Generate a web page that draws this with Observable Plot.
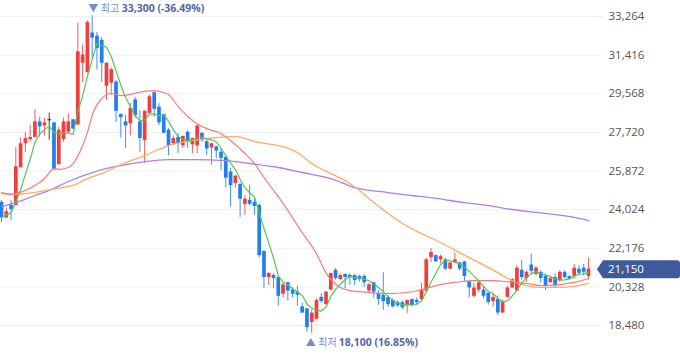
<!DOCTYPE html>
<html><head><meta charset="utf-8">
<script src="https://cdn.jsdelivr.net/npm/d3@7"></script>
<script src="https://cdn.jsdelivr.net/npm/@observablehq/plot@0.6"></script>
<style>html,body{margin:0;padding:0;background:#fff;} #chart svg{display:block;}</style>
</head><body><div id="chart"></div>
<script>
// Daily candles (KRW)
const opens  = [24350,23650,24200,24250,26050,27200,27400,27500,28200,28050,28300,28150,26200,27400,27750,28300,28100,31050,30600,32450,32300,32100,29950,30100,30100,28550,28200,28150,29250,28200,27350,28650,29600,28900,28550,27800,27200,27450,27100,27700,27150,27100,27650,27250,27000,27000,26750,26500,25800,25300,25200,24300,24450,24350,24200,22000,20800,20850,20750,20000,20500,20150,20050,19350,19250,18650,18800,19800,19500,20200,21100,20700,20900,20850,20850,20800,20800,20150,20500,20000,19900,19800,19650,19550,19550,19450,19700,19650,19750,20150,21750,21800,21650,21600,21200,21500,21450,21500,20550,19900,20200,20150,20000,19650,19700,19100,19850,20300,20150,21100,20750,21350,20950,21000,20800,20550,20750,20650,21000,20800,20850,21150,21200,20850];
const highs  = [24450,24100,24450,27000,27450,27700,28050,28800,28450,28400,28650,28200,27950,28400,28600,28300,32950,31900,33050,33300,32500,32250,31050,30800,30200,28600,28550,29100,29400,28750,28750,29500,29650,29100,28600,27900,27550,27650,27550,27800,27450,28050,27700,27350,27200,27050,26950,26600,26000,25650,25300,24700,25200,24550,24300,22050,21000,20950,20800,20500,20550,20300,20350,19550,19300,19200,19750,20000,20100,20950,21200,20950,20950,20950,20900,20900,20900,20500,20550,20150,21000,19900,19750,19650,19650,19700,19750,19800,20500,21700,22150,21850,21850,21700,21500,21950,21500,21550,20550,20500,20600,20300,20050,20000,19900,19700,20350,20750,21350,21600,21100,21900,21300,21100,20950,20800,20950,21100,21100,20850,21400,21350,21400,21700];
const lows   = [23400,23600,23500,24200,26000,26750,27250,27450,27500,27550,27350,25900,26150,27250,27650,27850,28050,30100,30550,31250,30700,30100,29250,29500,28200,27450,26950,27550,28400,26750,26250,28600,28450,28050,27650,26600,27100,26700,26950,26950,26700,26700,27250,26600,26150,26450,25900,25050,24150,25050,23650,23750,24200,23750,21700,20250,20400,20250,19400,19800,19650,19800,19400,19050,18150,18100,18750,19550,19450,20150,20650,20650,20250,20400,20400,20550,20300,20050,19800,19450,19200,19350,19300,19350,19250,19050,19400,19450,19650,20100,21500,21500,21450,21100,21150,21450,21100,20550,19800,19800,20050,19750,19450,19350,18950,19050,19800,20250,20100,20650,20550,20950,20850,20500,20150,20500,20300,20550,20700,20650,20700,20850,20850,20650];
const closes = [23650,23900,24050,26050,27150,27400,27450,28200,28000,28150,28300,25950,27800,28200,28200,27900,31550,31400,32950,32250,31750,31050,31000,30700,28750,28450,28050,28850,28550,27450,28700,29400,28850,28200,27700,27100,27400,27200,27500,27300,27400,28000,27350,26950,27150,26850,26500,25550,25200,25600,24550,24500,24300,24200,21850,20800,20950,20750,19900,20400,20150,20000,19950,19100,18400,19050,19650,19650,20050,20950,20750,20850,20800,20800,20650,20700,20550,20400,20100,19750,19650,19500,19400,19450,19350,19650,19450,19600,20150,21600,21950,21550,21750,21200,21450,21600,21200,20850,20300,20250,20500,19900,19600,19800,19100,19600,20250,20650,21200,20800,21000,21100,21200,20750,20400,20700,20400,21000,20800,20700,21200,21000,21050,21150];

// Moving averages (candle index, price)
const ma20Idx = [0,2,4,7,9,11,12,14,15,17,18,19,21,23,25,30,32,34,35,37,40,43,46,48,51,53,55,59,63,66,68,71,73,75,81,85,88,91,95,99,103,106,110,113,117,120,123];
const ma20Val = [24800,24750,24850,25180,25500,25990,25950,26040,26230,27090,27710,28530,29340,29580,29480,29680,29720,29630,29530,28960,28290,27900,27670,27330,26710,26230,25560,24320,22930,21920,21000,20300,20150,20100,20010,20060,20200,20390,20540,20630,20630,20580,20490,20390,20440,20540,20730];
const ma60Idx = [0,3,7,12,15,18,21,25,30,35,40,45,49,54,58,62,65,69,72,75,77,81,84,88,92,96,100,104,106,110,113,117,120,123];
const ma60Val = [24850,24750,24850,25050,25180,25510,25750,26180,26610,27090,27330,27470,27520,27230,27090,26760,26230,25750,25420,24940,24560,23840,23360,22880,22450,21970,21490,21010,20730,20390,20300,20300,20350,20490];
const ma120Idx = [0,3,7,10,14,19,23,29,35,40,47,52,58,63,69,74,81,86,91,97,102,107,114,120,123];
const ma120Val = [24170,24360,24700,24940,25370,25800,26040,26280,26420,26420,26370,26230,26040,25800,25510,25080,24840,24700,24560,24360,24220,24030,23840,23650,23500];

const yTicks = [18480,20328,22176,24024,25872,27720,29568,31416,33264];

const highIdx = 19, highValue = 33300, highPrefix = "▼ 최고", highText = "33,300 (-36.49%)";
const lowIdx = 65, lowValue = 18100, lowPrefix = "▲ 최저", lowText = "18,100 (16.85%)";

const candles = opens.map((o, i) => ({i, open: o, high: highs[i], low: lows[i], close: closes[i]}));
const colorOf = d => d.close > d.open ? "#f23d3d" : d.close < d.open ? "#1f7fef" : "#222222";
const pts = (idx, val) => idx.map((i, k) => ({i, v: val[k]}));
const lastClose = closes[closes.length - 1];
const fmt = d3.format(",");

function priceTag(index, scales) {
  const y = scales.y(lastClose);
  const g = d3.create("svg:g");
  g.append("path")
    .attr("d", `M597,${y} L603,${y - 9} H677 Q680,${y - 9} 680,${y - 6} V${y + 6} Q680,${y + 9} 677,${y + 9} H603 Z`)
    .attr("fill", "#3f5a9b");
  g.append("text").attr("x", 608).attr("y", y).attr("dy", "0.36em")
    .attr("text-anchor", "start")
    .attr("fill", "#ffffff").attr("font-size", "11.5px").text(fmt(lastClose));
  return g.node();
}

const chart = Plot.plot({
  width: 680, height: 358,
  marginLeft: 0, marginRight: 77, marginTop: 0, marginBottom: 0,
  style: {fontFamily: "'Open Sans','Noto Sans CJK KR',sans-serif", fontSize: "11.5px", color: "#555", background: "#fff", overflow: "visible"},
  x: {type: "linear", domain: [0, closes.length - 1], range: [1, 588], axis: null},
  y: {domain: [18480, 33264], range: [325, 16], axis: "right", ticks: yTicks, tickFormat: fmt, tickSize: 0, tickPadding: 5, label: null},
  color: {type: "identity"},
  marks: [
    Plot.ruleY(yTicks, {stroke: "#eef0f7"}),
    Plot.ruleX(candles, {x: "i", y1: "low", y2: "high", stroke: colorOf, strokeWidth: 1, strokeOpacity: 0.85}),
    Plot.ruleX(candles, {x: "i", y1: d => Math.max(d.open, d.close), y2: d => Math.min(d.open, d.close), stroke: colorOf, strokeWidth: 3.7, insetTop: -0.5, insetBottom: -0.5}),
    Plot.line(pts(ma120Idx, ma120Val), {x: "i", y: "v", stroke: "#b07cf8", strokeWidth: 1.3, curve: "monotone-x"}),
    Plot.line(pts(ma60Idx, ma60Val), {x: "i", y: "v", stroke: "#ffab60", strokeWidth: 1.3, curve: "monotone-x"}),
    Plot.line(pts(ma20Idx, ma20Val), {x: "i", y: "v", stroke: "#fb7a7a", strokeWidth: 1.2, curve: "monotone-x"}),
    Plot.lineY(candles, Plot.windowY({k: 5, anchor: "end"}, {x: "i", y: "close", stroke: "#52c852", strokeWidth: 1.2})),
    Plot.text([{i: highIdx, v: highValue}], {x: "i", y: "v", text: () => highPrefix, dx: -4, dy: -7, textAnchor: "start", fill: "#7a8dc8", fontSize: 10}),
    Plot.text([{i: highIdx, v: highValue}], {x: "i", y: "v", text: () => highText, dx: 29.5, dy: -7, textAnchor: "start", fill: "#5267a6", fontSize: 10.5, fontWeight: "bold"}),
    Plot.text([{i: lowIdx, v: lowValue}], {x: "i", y: "v", text: () => lowPrefix, dx: -6, dy: 9, textAnchor: "start", fill: "#7a8dc8", fontSize: 10}),
    Plot.text([{i: lowIdx, v: lowValue}], {x: "i", y: "v", text: () => lowText, dx: 27, dy: 9, textAnchor: "start", fill: "#5267a6", fontSize: 10.5, fontWeight: "bold"}),
    priceTag
  ]
});
document.getElementById("chart").appendChild(chart);
</script>
</body></html>
